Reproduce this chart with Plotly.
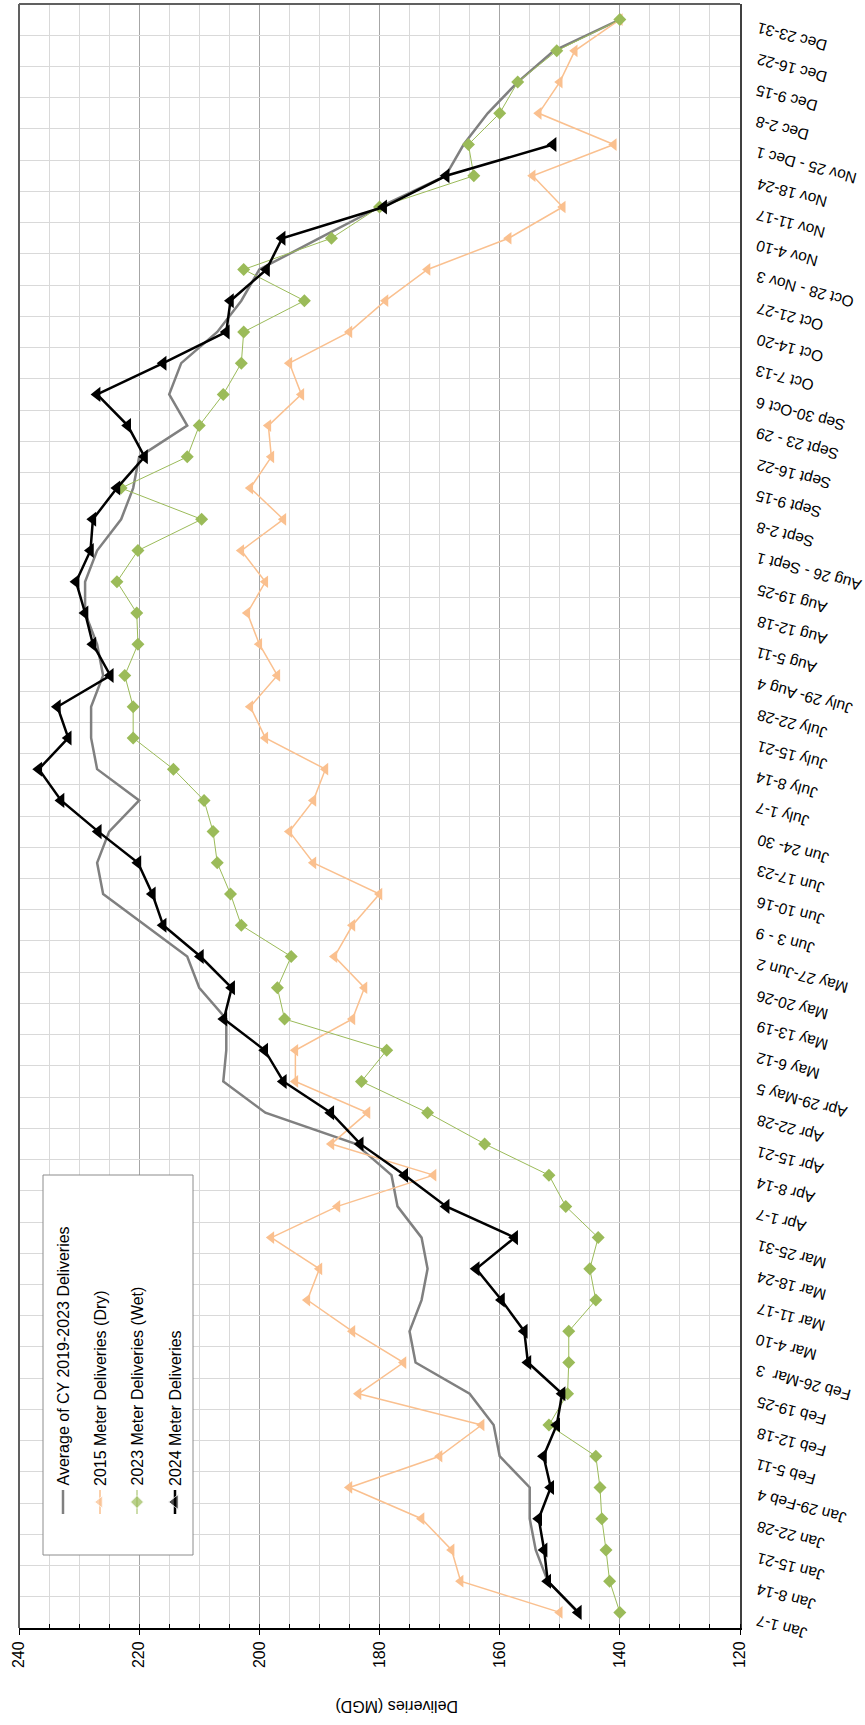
import plotly.graph_objects as go

# Weekly delivery periods (category axis)
weeks = [
    "Jan 1-7", "Jan 8-14", "Jan 15-21", "Jan 22-28", "Jan 29-Feb 4",
    "Feb 5-11", "Feb 12-18", "Feb 19-25", "Feb 26-Mar  3", "Mar 4-10",
    "Mar 11-17", "Mar 18-24", "Mar 25-31", "Apr 1-7", "Apr 8-14",
    "Apr 15-21", "Apr 22-28", "Apr 29-May 5", "May 6-12", "May 13-19",
    "May 20-26", "May 27-Jun 2", "Jun 3 - 9", "Jun 10-16", "Jun 17-23",
    "Jun 24- 30", "July 1-7", "July 8-14", "July 15-21", "July 22-28",
    "July 29- Aug 4", "Aug 5-11", "Aug 12-18", "Aug 19-25", "Aug 26 - Sept 1",
    "Sept 2-8", "Sept 9-15", "Sept 16-22", "Sept 23 - 29", "Sep 30-Oct 6",
    "Oct 7-13", "Oct 14-20", "Oct 21-27", "Oct 28 - Nov 3", "Nov 4-10",
    "Nov 11-17", "Nov 18-24", "Nov 25 - Dec 1", "Dec 2-8", "Dec 9-15",
    "Dec 16-22", "Dec 23-31",
]

# Deliveries in MGD
avg_2019_2023 = [
    147, 152, 154, 155, 155, 160, 161, 165, 174, 175,
    173, 172, 173, 177, 178, 184, 199, 206, 205.5, 205.5,
    210, 212, 219, 226, 227, 225, 220, 227, 228, 228,
    226, 227, 229, 229, 227, 223, 221, 220, 212, 215,
    213, 207, 203, 200, 190, 180, 169, 166, 162, 157,
    151, 140,
]
dry_2015 = [
    150, 166.5, 168, 173, 185, 170, 163, 183.5, 176, 184.5,
    192, 190, 198, 187, 171, 188, 182, 194, 194, 184.5,
    182.5, 187.5, 184.5, 180, 191, 195, 191, 189, 199, 201.5,
    197, 200, 202, 199, 203, 196, 201.5, 198, 198.5, 193,
    195, 185, 179, 172, 158.5, 149.5, 154.5, 141, 153.5, 150,
    147.5, 140,
]
wet_2023 = [
    140, 141.7, 142.3, 143, 143.3, 144, 151.8, 148.7, 148.5, 148.5,
    144, 145, 143.6, 149, 151.8, 162.5, 172, 183, 178.8, 195.8,
    197, 194.7, 203, 204.8, 207, 207.7, 209.2, 214.3, 221, 221,
    222.4, 220.2, 220.4, 223.7, 220.2, 209.6, 223, 212, 210, 206,
    203, 202.6, 192.5, 202.6, 188, 180, 164.3, 165.2, 160, 157,
    150.5, 140,
]
del_2024 = [
    146.9, 152.0, 152.6, 153.5, 151.5, 152.7, 150.5, 149.6, 155.3, 155.9,
    159.7, 163.9, 157.5, 168.9, 175.8, 183.2, 188.1, 196.0, 199.1, 205.9,
    204.6, 209.8, 216.0, 217.8, 220.2, 226.8, 233.0, 236.7, 231.8, 233.6,
    224.8, 227.7, 229.0, 230.5, 228.1, 227.7, 223.7, 219.1, 221.9, 227.0,
    216.0, 205.5, 204.8, 198.8, 196.2, 179.3, 168.9, 151.1,
]
value_ticks = [240, 220, 200, 180, 160, 140, 120]

series_names = [
    "Average of CY 2019-2023 Deliveries",
    "2015 Meter Deliveries (Dry)",
    "2023 Meter Deliveries (Wet)",
    "2024 Meter Deliveries",
]

GRAY = "#808080"
ORANGE = "#fac08f"
GREEN = "#9bbb59"
BLACK = "#000000"
FONT = "Liberation Sans, Arial, sans-serif"

W, H = 865, 1725
PL, PR, PT, PB = 19, 740, 4, 1628  # plot area in page pixels


def px_to_paper_x(px):
    return (px - PL) / (PR - PL)


def px_to_paper_y(py):
    return (PB - py) / (PB - PT)


series_styles = [
    dict(mode="lines", line=dict(color=GRAY, width=2.5)),
    dict(mode="lines+markers", line=dict(color=ORANGE, width=1.5),
         marker=dict(symbol="triangle-left", size=11, color=ORANGE)),
    dict(mode="lines+markers", line=dict(color=GREEN, width=1),
         marker=dict(symbol="diamond", size=10, color=GREEN)),
    dict(mode="lines+markers", line=dict(color=BLACK, width=2.5),
         marker=dict(symbol="triangle-left", size=13, color=BLACK)),
]
series_values = [avg_2019_2023, dry_2015, wet_2023, del_2024]

fig = go.Figure()

for name, vals, st in zip(series_names, series_values, series_styles):
    fig.add_trace(go.Scatter(
        x=vals, y=list(range(len(vals))), name=name, showlegend=False, **st))

# Legend frame (white box) in page-pixel coordinates on the x2/y2 overlay
LX0, LX1, LY0, LY1 = 43, 193, 1175, 1555
fig.add_trace(go.Scatter(
    x=[LX0, LX1, LX1, LX0, LX0], y=[LY0, LY0, LY1, LY1, LY0],
    xaxis="x2", yaxis="y2", mode="lines", fill="toself",
    fillcolor="white", line=dict(color="#8c8c8c", width=1),
    showlegend=False, hoverinfo="skip"))

# Legend samples: short vertical stroke with one marker in the middle
leg_x = [63, 100, 137, 175]
for lx, st in zip(leg_x, series_styles):
    st = dict(st)
    if "marker" in st:
        mk = dict(st["marker"])
        mk["size"] = [0, mk["size"], 0]
        st["marker"] = mk
    fig.add_trace(go.Scatter(
        x=[lx, lx, lx], y=[1490, 1502, 1514], xaxis="x2", yaxis="y2",
        showlegend=False, hoverinfo="skip", **st))

annotations = []
for lx, name in zip(leg_x, series_names):
    annotations.append(dict(
        x=px_to_paper_x(lx), y=px_to_paper_y(1488), xref="paper",
        yref="paper", text=name, showarrow=False,
        textangle=-90, xanchor="center", yanchor="bottom",
        font=dict(family=FONT, size=16, color="#000")))

# Week labels on the right of the plot
for i, wk in enumerate(weeks):
    annotations.append(dict(
        x=px_to_paper_x(752), y=i, xref="paper", yref="y", text=wk,
        showarrow=False, textangle=-165, xanchor="left", yanchor="top",
        yshift=3, font=dict(family=FONT, size=15.5, color="#000")))

# Value axis title
annotations.append(dict(
    x=px_to_paper_x(397), y=px_to_paper_y(1706), xref="paper", yref="paper",
    text="Deliveries (MGD)", showarrow=False, textangle=180,
    xanchor="center", yanchor="middle",
    font=dict(family=FONT, size=16, color="#000")))

shapes = [
    # left and top frame of plot area
    dict(type="line", xref="paper", yref="paper", x0=0, x1=0, y0=0, y1=1,
         line=dict(color="#606060", width=2)),
    dict(type="line", xref="paper", yref="paper", x0=0, x1=1, y0=1, y1=1,
         line=dict(color="#606060", width=2)),
]

fig.update_layout(
    width=W, height=H,
    margin=dict(l=PL, r=W - PR, t=PT, b=H - PB, pad=0, autoexpand=False),
    paper_bgcolor="white", plot_bgcolor="white",
    showlegend=False,
    font=dict(family=FONT, size=16, color="#000"),
    annotations=annotations, shapes=shapes,
    xaxis=dict(
        range=[240, 120], tickmode="array", tickvals=value_ticks,
        ticktext=[str(v) for v in value_ticks],
        tickangle=-90, ticks="outside", ticklen=5, tickcolor="#000",
        tickfont=dict(family=FONT, size=16, color="#000"),
        showgrid=True, gridcolor="#a6a6a6", gridwidth=1,
        minor=dict(dtick=5, tick0=0, showgrid=True, gridcolor="#d9d9d9",
                   ticks="inside", ticklen=4, tickcolor="#000"),
        showline=True, linecolor="#000", linewidth=2,
        zeroline=False, automargin=False, fixedrange=True,
    ),
    yaxis=dict(
        range=[-0.5, len(weeks) - 0.5], tickmode="linear", tick0=0.5, dtick=1,
        showticklabels=False, ticks="", showgrid=True, gridcolor="#d9d9d9",
        gridwidth=1, side="right", showline=True, linecolor="#404040",
        linewidth=2, zeroline=False, automargin=False, fixedrange=True,
    ),
    xaxis2=dict(range=[PL, PR], overlaying="x", visible=False,
                fixedrange=True),
    yaxis2=dict(range=[PB, PT], overlaying="y", visible=False,
                fixedrange=True),
)

fig.write_html("out.html")
